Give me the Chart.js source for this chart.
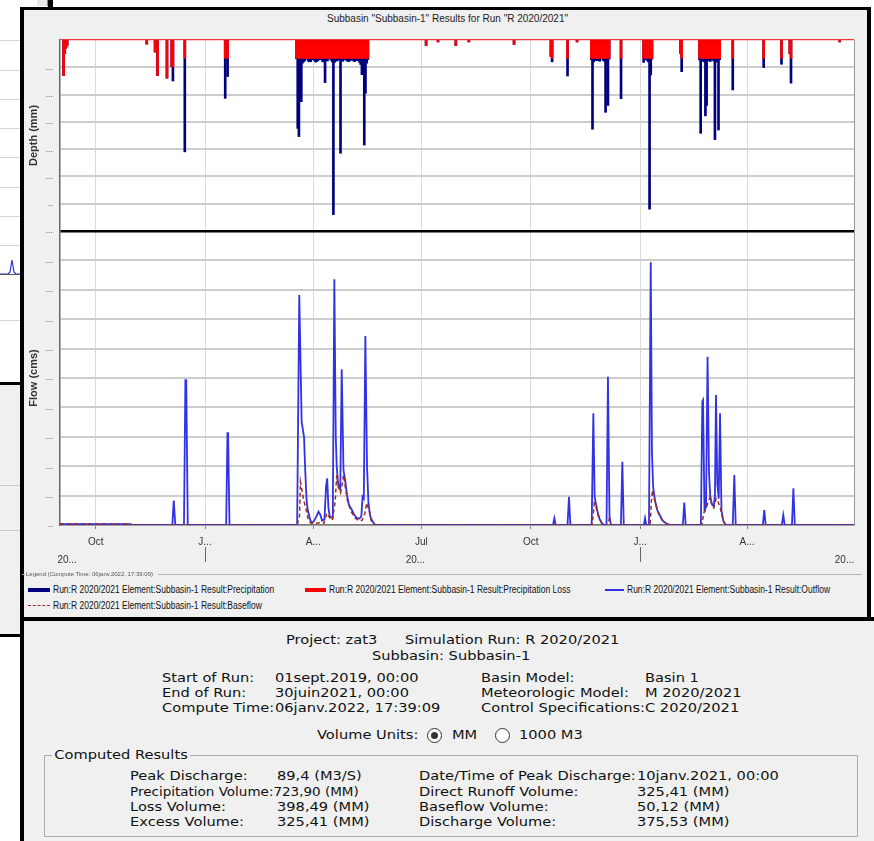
<!DOCTYPE html>
<html>
<head>
<meta charset="utf-8">
<title>Subbasin-1 results</title>
<script src="https://cdn.jsdelivr.net/npm/chart.js@4.4.1/dist/chart.umd.min.js"></script>
<style>
  html, body { margin: 0; padding: 0; }
  body { position: relative; width: 874px; height: 841px; overflow: hidden; background: #fff; }
  .box { position: absolute; }
  .t { position: absolute; white-space: nowrap; font: 12.5px 'DejaVu Sans', sans-serif; color: #111; line-height: 15px; transform: scaleX(1.17); transform-origin: 0 0; }
  .lg { position: absolute; white-space: nowrap; font: 10px 'Liberation Sans', Arial, sans-serif; color: #111; line-height: 12px; transform: scaleX(0.85); transform-origin: 0 0; }
  canvas { position: absolute; }
</style>
</head>
<body>

<!-- window behind, on the left -->
<div class="box" style="left:0;top:40px;width:21px;height:1px;background:#d4d4d4"></div>
<div class="box" style="left:0;top:70px;width:21px;height:1px;background:#d4d4d4"></div>
<div class="box" style="left:0;top:99px;width:21px;height:1px;background:#d4d4d4"></div>
<div class="box" style="left:0;top:128px;width:21px;height:1px;background:#d4d4d4"></div>
<div class="box" style="left:0;top:157px;width:21px;height:1px;background:#d4d4d4"></div>
<div class="box" style="left:0;top:187px;width:21px;height:1px;background:#d4d4d4"></div>
<div class="box" style="left:0;top:216px;width:21px;height:1px;background:#d4d4d4"></div>
<div class="box" style="left:0;top:245px;width:21px;height:1px;background:#d4d4d4"></div>
<svg class="box" style="left:0;top:250px" width="21" height="30"><polyline points="0,24 8,24 10,22 12,10 14,22 16,24 21,24" fill="none" stroke="#3131e6" stroke-width="1.2"/><line x1="0" y1="24.5" x2="21" y2="24.5" stroke="#555" stroke-width="1"/></svg>
<div class="box" style="left:0;top:320px;width:21px;height:1px;background:#d4d4d4"></div>
<div class="box" style="left:0;top:382px;width:21px;height:3px;background:#000"></div>
<div class="box" style="left:0;top:385px;width:21px;height:249px;background:#f0f0f0"></div>
<div class="box" style="left:0;top:485px;width:21px;height:1px;background:#c8c8c8"></div>
<div class="box" style="left:0;top:530px;width:21px;height:1px;background:#c8c8c8"></div>
<div class="box" style="left:0;top:634px;width:21px;height:3px;background:#000"></div>
<div class="box" style="left:37px;top:0;width:10px;height:6px;background:#e8e8e8;border-right:1px solid #888"></div>
<div class="box" style="left:48px;top:0;width:5px;height:8px;background:#000"></div>

<!-- chart window -->
<div class="box" style="left:24px;top:10px;width:843px;height:607px;background:#f0f0f0"></div>
<div class="box" style="left:20px;top:7px;width:851px;height:3px;background:#000"></div>
<div class="box" style="left:20px;top:7px;width:4px;height:834px;background:#000"></div>
<div class="box" style="left:867px;top:7px;width:4px;height:613px;background:#000"></div>
<div class="box" style="left:24px;top:621px;width:850px;height:220px;background:#f0f0f0"></div>
<div class="box" style="left:20px;top:617px;width:854px;height:4px;background:#000"></div>

<div class="box" style="left:24px;top:12px;width:847px;text-align:center;font:10px 'Liberation Sans', Arial, sans-serif;color:#222;line-height:14px">Subbasin "Subbasin-1" Results for Run "R 2020/2021"</div>

<canvas id="depthChart" width="842" height="202" style="left:24px;top:30px"></canvas>
<canvas id="flowChart" width="842" height="352" style="left:24px;top:221px"></canvas>

<!-- legend -->
<div class="box" style="left:22px;top:574px;width:3px;height:1px;background:#b0b0b0"></div>
<div class="box" style="left:26px;top:570px;white-space:nowrap;font:6px 'Liberation Sans', Arial, sans-serif;color:#555;line-height:8px">Legend (Compute Time: 06janv.2022, 17:39:09)</div>
<div class="box" style="left:158px;top:574px;width:704px;height:1px;background:#b5b5b5"></div>
<div class="box" style="left:28px;top:588px;width:22px;height:4px;background:#00007f"></div>
<div class="lg" style="left:53px;top:584px">Run:R 2020/2021 Element:Subbasin-1 Result:Precipitation</div>
<div class="box" style="left:305px;top:588px;width:21px;height:4px;background:#ff0000"></div>
<div class="lg" style="left:329px;top:584px">Run:R 2020/2021 Element:Subbasin-1 Result:Precipitation Loss</div>
<div class="box" style="left:605px;top:589px;width:19px;height:2px;background:#3131e6"></div>
<div class="lg" style="left:627px;top:584px">Run:R 2020/2021 Element:Subbasin-1 Result:Outflow</div>
<div class="box" style="left:28px;top:605px;width:22px;height:0;border-top:1.5px dashed #9c2b25"></div>
<div class="lg" style="left:53px;top:600px">Run:R 2020/2021 Element:Subbasin-1 Result:Baseflow</div>

<!-- summary panel -->
<div class="t" style="left:286px;top:632px">Project: zat3</div>
<div class="t" style="left:405px;top:632px">Simulation Run: R 2020/2021</div>
<div class="t" style="left:372px;top:648px">Subbasin: Subbasin-1</div>

<div class="t" style="left:162px;top:670px">Start of Run:</div>
<div class="t" style="left:275px;top:670px">01sept.2019, 00:00</div>
<div class="t" style="left:481px;top:670px">Basin Model:</div>
<div class="t" style="left:645px;top:670px">Basin 1</div>
<div class="t" style="left:162px;top:685px">End of Run:</div>
<div class="t" style="left:275px;top:685px">30juin2021, 00:00</div>
<div class="t" style="left:481px;top:685px">Meteorologic Model:</div>
<div class="t" style="left:645px;top:685px">M 2020/2021</div>
<div class="t" style="left:162px;top:700px">Compute Time:</div>
<div class="t" style="left:275px;top:700px">06janv.2022, 17:39:09</div>
<div class="t" style="left:481px;top:700px">Control Specifications:</div>
<div class="t" style="left:645px;top:700px">C 2020/2021</div>

<div class="t" style="left:317px;top:727px">Volume Units:</div>
<div class="box" style="left:427px;top:728px;width:13px;height:13px;border:1px solid #333;border-radius:50%;background:#fff"></div>
<div class="box" style="left:431px;top:732px;width:7px;height:7px;border-radius:50%;background:#333"></div>
<div class="t" style="left:452px;top:727px">MM</div>
<div class="box" style="left:495px;top:728px;width:13px;height:13px;border:1px solid #333;border-radius:50%;background:#fff"></div>
<div class="t" style="left:519px;top:727px">1000 M3</div>

<div class="box" style="left:44px;top:755px;width:812px;height:80px;border:1px solid #a9a9a9"></div>
<div class="t" style="left:52px;top:747px;background:#f0f0f0;padding:0 2px">Computed Results</div>

<div class="t" style="left:130px;top:768px">Peak Discharge:</div>
<div class="t" style="left:277px;top:768px">89,4 (M3/S)</div>
<div class="t" style="left:419px;top:768px">Date/Time of Peak Discharge:</div>
<div class="t" style="left:637px;top:768px">10janv.2021, 00:00</div>
<div class="t" style="left:130px;top:784px;transform:scaleX(1.08)">Precipitation Volume:723,90 (MM)</div>
<div class="t" style="left:419px;top:784px">Direct Runoff Volume:</div>
<div class="t" style="left:637px;top:784px">325,41 (MM)</div>
<div class="t" style="left:130px;top:799px">Loss Volume:</div>
<div class="t" style="left:277px;top:799px">398,49 (MM)</div>
<div class="t" style="left:419px;top:799px">Baseflow Volume:</div>
<div class="t" style="left:637px;top:799px">50,12 (MM)</div>
<div class="t" style="left:130px;top:814px">Excess Volume:</div>
<div class="t" style="left:277px;top:814px">325,41 (MM)</div>
<div class="t" style="left:419px;top:814px">Discharge Volume:</div>
<div class="t" style="left:637px;top:814px">375,53 (MM)</div>

<script>
// day 0 = 01 Sep 2019, day 668 = 30 Jun 2021
const monthTickDays = [30, 122, 213, 304, 396, 488, 578];
const monthTickLabels = ['Oct', 'J...', 'A...', 'Jul', 'Oct', 'J...', 'A...'];
const yearTickDays = [6, 122, 299, 488, 660];
const yearTickLabels = ['20...', '', '20...', '', '20...'];
const depthTickLabels = ['..', '..', '...', '...', '...', '...', '...', ''];
const flowTickLabels = ['..', '...', '...', '...', '...', '...', '...', '...', '...', '...', '...'];

// daily precipitation and loss (mm)
const precipDays = [
  3, 4, 5, 6, 73, 80, 82, 90, 94, 95, 105, 139, 141,
  199, 200, 201, 202, 203, 204, 205, 206, 207, 208,
  209, 210, 211, 212, 213, 214, 215, 216, 217, 218,
  219, 220, 221, 222, 223, 224, 225, 226, 227, 228,
  229, 230, 231, 232, 233, 234, 235, 236, 237, 238,
  239, 240, 241, 242, 243, 244, 245, 246, 247, 248,
  249, 250, 251, 252, 253, 254, 255, 256, 257, 258,
  259,
  308, 318, 333, 344, 382, 413, 414, 427, 435,
  447, 448, 449, 450, 451, 452, 453, 454, 455, 456,
  457, 458, 459, 460, 461, 462,
  472, 491, 493, 494, 495, 496, 497, 498, 522, 523,
  538, 539, 540, 541, 542, 543, 544, 545, 546, 547,
  548, 549, 550, 551, 552, 553, 554, 555,
  566, 592, 607, 614, 615, 656
];
const precipMm = [
  13, 5, 3, 2, 1.5, 4.4, 13, 14, 9.8, 15, 41, 21.4, 13.4,
  6.9, 32.4, 35.4, 8.2, 22.6, 8.5, 8.0, 7.6, 7.0, 6.7,
  7.8, 8.0, 7.9, 7.2, 6.7, 7.5, 8.1, 7.9, 7.6, 7.2,
  6.7, 7.3, 8.0, 7.8, 15.6, 7.4, 7.7, 7.0, 6.7, 7.4,
  8.0, 64, 8.2, 7.5, 7.7, 7.0, 7.4, 41.5, 7.6, 7.8,
  7.2, 6.7, 7.5, 7.8, 7.9, 7.6, 7.4, 7.2, 7.7, 7.9,
  7.5, 7.0, 7.6, 8.2, 9.0, 12.7, 12.0, 38.5, 19.5, 8.5,
  7.2,
  2, 0.7, 2, 0.7, 1.6, 6, 8, 13.2, 0.7,
  7.2, 32.7, 8.0, 7.4, 7.6, 7.3, 7.5, 7.8, 7.0, 6.7,
  7.5, 7.8, 26.5, 8.2, 24.0, 7.0,
  21.5, 8.2, 7.2, 7.5, 8.0, 62, 12.8, 7.0, 5, 11.6,
  7.3, 34.2, 7.8, 7.5, 8.0, 27.8, 24.0, 7.6, 7.2, 7.9,
  7.4, 7.0, 7.7, 36.5, 8.1, 7.8, 33.0, 7.2,
  18.3, 10.1, 8.9, 5, 15.8, 0.7
];
const lossMm = [
  13, 5, 3, 2, 1.5, 4.4, 13, 14, 9.8, 9.8, 6.7, 6.7, 6.7,
  6.7, 6.7, 6.7, 6.7, 6.7, 6.7, 6.7, 6.7, 6.7, 6.7,
  6.7, 6.7, 6.7, 6.7, 6.7, 6.7, 6.7, 6.7, 6.7, 6.7,
  6.7, 6.7, 6.7, 6.7, 6.7, 6.7, 6.7, 6.7, 6.7, 6.7,
  6.7, 6.7, 6.7, 6.7, 6.7, 6.7, 6.7, 6.7, 6.7, 6.7,
  6.7, 6.7, 6.7, 6.7, 6.7, 6.7, 6.7, 6.7, 6.7, 6.7,
  6.7, 6.7, 6.7, 6.7, 6.7, 6.7, 6.7, 6.7, 6.7, 6.7,
  6.7,
  2, 0.7, 2, 0.7, 1.6, 6, 6.7, 6.7, 0.7,
  6.7, 6.7, 6.7, 6.7, 6.7, 6.7, 6.7, 6.7, 6.7, 6.7,
  6.7, 6.7, 6.7, 6.7, 6.7, 6.7,
  6.7, 6.7, 6.7, 6.7, 6.7, 6.7, 6.7, 6.7, 5, 6.7,
  6.7, 6.7, 6.7, 6.7, 6.7, 6.7, 6.7, 6.7, 6.7, 6.7,
  6.7, 6.7, 6.7, 6.7, 6.7, 6.7, 6.7, 6.7,
  6.7, 6.7, 6.7, 5, 6.7, 0.7
];

// outflow (cms)
const flowDays = [
  0, 59, 61,
  94.5, 95.7, 97,
  104.3, 105.5, 106.2, 107.5,
  139.8, 140.9, 141.4, 142.6,
  199.5, 201.3, 203.3, 205.3, 206.3, 207.5, 208.5, 210.5, 212, 214,
  217.5, 219, 220.5, 222.5, 223.8, 224.8, 225.8, 227, 229.5, 230.8,
  232, 232.8, 234, 235.8, 237, 238.5, 240, 241.5, 243, 245.5,
  247.5, 250, 252, 253.5, 254.6, 255.6, 256.9, 258.3, 259.5, 261,
  262.5, 265,
  414.8, 415.9, 417,
  427, 428.2, 429.4,
  447.3, 448.7, 449.8, 451, 452.5, 454, 456, 458,
  459.8, 461, 462.3, 463.5,
  471.9, 473.1, 474.3,
  491.2, 492.2, 493.2,
  495.5, 497, 498, 499, 500.5, 502.5, 504.5, 507, 510, 513,
  524, 525.2, 526.4,
  539.2, 540.4, 541, 542.2, 543.5, 544.8, 546, 547, 548.5, 550,
  551, 551.9, 553, 554.2, 555.3, 556.5, 558, 560,
  566, 567.3, 568.5,
  591.3, 592.5, 593.7,
  607.3, 608.5, 609.7,
  615.8, 617, 618.2,
  668
];
const outflowCms = [
  0.3, 0.3, 0,
  0, 8.3, 0,
  0, 49.3, 49.3, 0,
  0, 31.2, 31.2, 0,
  0, 78.2, 35.1, 30, 18.7, 8, 5, 1.7, 0.7, 1.5,
  4.5, 3.5, 1.5, 2, 13, 15.9, 6, 2.8, 2.5, 83.6,
  30, 19.8, 14, 12, 53, 18.7, 15, 10, 7, 5.1,
  3.5, 2.3, 2.2, 3, 9.6, 9, 64.3, 20, 7.4, 3,
  1.5, 0,
  0, 2.3, 0,
  0, 9.6, 0,
  0, 38, 9.6, 7, 4, 2, 0.5, 0,
  0, 50.4, 3, 0,
  0, 21.5, 0,
  0, 2.3, 0,
  0, 89.4, 25, 13, 8.5, 5, 3.4, 1.5, 0.5, 0,
  0, 7.6, 0,
  0, 42, 42.5, 5, 6, 57.2, 18, 10, 7, 6.5,
  10, 44.2, 14, 9, 38, 5, 1.5, 0,
  0, 17, 0,
  0, 5.1, 0,
  0, 3.4, 0,
  0, 12.5, 0,
  0
];

// baseflow (cms)
const baseDays = [
  0, 59, 61,
  199.5, 201.5, 202.3, 203.5, 205, 207, 209, 211, 214, 218,
  222, 224.5, 226, 229, 231.5, 232.8, 234, 236, 237.5, 238.5,
  240, 242, 245, 248, 251, 254, 256.5, 258, 260, 262,
  264.5,
  447.8, 449.5, 451, 453, 456, 458,
  461, 462, 463.5,
  496.5, 497.5, 498.5, 500.5, 503, 506, 510, 513,
  540, 541.5, 543, 545.5, 547, 548.5, 550, 552, 553.5, 555.5,
  557, 559, 561,
  668
];
const baseflowCms = [
  0.3, 0.3, 0,
  0, 3, 14.7, 12, 8.5, 5.4, 1.5, 0.7, 0.5, 0.8,
  0.6, 4, 3, 1.5, 8, 17, 13, 11, 14, 17,
  13, 8, 4.5, 2.5, 1.5, 1.5, 4, 7.5, 5, 1.2,
  0,
  0, 7.4, 6, 3, 0.4, 0,
  0, 2, 0,
  0, 8, 11.9, 8, 4.5, 2, 0.5, 0,
  0, 4, 5, 8, 9.5, 6.5, 5.8, 9, 8, 6,
  3, 0.6, 0,
  0
];

Chart.defaults.font.family = "'Liberation Sans', Arial, sans-serif";
Chart.defaults.color = '#333';

// white plot area and grey right edge
const plotFrame = {
  id: 'plotFrame',
  beforeDraw(chart) {
    const { ctx, chartArea: a } = chart;
    ctx.save();
    ctx.fillStyle = '#ffffff';
    ctx.fillRect(a.left, a.top, a.right - a.left, a.bottom - a.top);
    ctx.restore();
  },
  afterDraw(chart) {
    const { ctx, chartArea: a } = chart;
    ctx.save();
    ctx.strokeStyle = '#9a9a9a';
    ctx.lineWidth = 1;
    ctx.beginPath();
    ctx.moveTo(a.right + 0.5, a.top);
    ctx.lineTo(a.right + 0.5, a.bottom);
    ctx.stroke();
    ctx.restore();
  }
};

function monthTicks(scale) {
  scale.ticks = monthTickDays.map(v => ({ value: v }));
}
function noPad(s) {
  s.paddingTop = 0; s.paddingBottom = 0; s.paddingLeft = 0; s.paddingRight = 0;
}
const tickVal = c => (c.tick ? c.tick.value : null);

new Chart(document.getElementById('depthChart'), {
  type: 'bar',
  data: {
    datasets: [
      {
        label: 'Run:R 2020/2021 Element:Subbasin-1 Result:Precipitation Loss',
        data: precipDays.map((d, i) => ({ x: d, y: lossMm[i] })),
        backgroundColor: '#ff0000',
        barThickness: 2,
        grouped: false
      },
      {
        label: 'Run:R 2020/2021 Element:Subbasin-1 Result:Precipitation',
        data: precipDays.map((d, i) => ({ x: d, y: precipMm[i] })),
        backgroundColor: '#00007f',
        barThickness: 2,
        grouped: false
      }
    ]
  },
  options: {
    responsive: false,
    animation: false,
    events: [],
    layout: { padding: { left: 0, top: 10, right: 12, bottom: 1 } },
    plugins: { legend: { display: false }, tooltip: { enabled: false } },
    scales: {
      x: {
        type: 'linear', min: 0, max: 668, offset: false,
        afterBuildTicks: monthTicks,
        ticks: { display: false },
        grid: { color: '#dadada', lineWidth: 1, drawTicks: false, offset: false },
        border: { display: false },
        afterFit: s => { s.height = 0; noPad(s); }
      },
      y: {
        min: 0, max: 70, reverse: true,
        ticks: { stepSize: 10, padding: 7, font: { size: 9 }, color: '#555', callback: (v, i) => depthTickLabels[i] },
        grid: {
          drawTicks: false,
          color: c => tickVal(c) === 0 ? '#ee3a3a' : (tickVal(c) === 70 ? '#000000' : '#cdcdcd'),
          lineWidth: c => tickVal(c) === 0 ? 1.2 : (tickVal(c) === 70 ? 2.5 : 2)
        },
        border: { color: '#666', width: 1.5 },
        title: { display: true, text: 'Depth (mm)', font: { size: 11, weight: 'bold' }, color: '#333', padding: { top: 3, bottom: 0 } },
        afterFit: s => { s.width = 36; noPad(s); }
      }
    }
  },
  plugins: [plotFrame]
});

new Chart(document.getElementById('flowChart'), {
  type: 'line',
  data: {
    datasets: [
      {
        label: 'Run:R 2020/2021 Element:Subbasin-1 Result:Baseflow',
        data: baseDays.map((d, i) => ({ x: d, y: baseflowCms[i] })),
        xAxisID: 'x', yAxisID: 'y',
        borderColor: '#9c2b25', borderWidth: 1.5, borderDash: [4, 3],
        pointRadius: 0, tension: 0
      },
      {
        label: 'Run:R 2020/2021 Element:Subbasin-1 Result:Outflow',
        data: flowDays.map((d, i) => ({ x: d, y: outflowCms[i] })),
        xAxisID: 'x', yAxisID: 'y',
        borderColor: '#3131e6', borderWidth: 1.8,
        pointRadius: 0, tension: 0
      }
    ]
  },
  options: {
    responsive: false,
    animation: false,
    events: [],
    layout: { padding: { left: 0, top: 10, right: 12, bottom: 6 } },
    plugins: { legend: { display: false }, tooltip: { enabled: false } },
    scales: {
      x: {
        type: 'linear', min: 0, max: 668, weight: 0,
        afterBuildTicks: monthTicks,
        ticks: { autoSkip: false, maxRotation: 0, padding: 7, font: { size: 10 }, color: '#333', callback: (v, i) => monthTickLabels[i] },
        grid: { color: '#dadada', lineWidth: 1, tickLength: 4, tickColor: '#888' },
        border: { color: '#777', width: 1.5 },
        afterFit: s => { s.height = 22; noPad(s); }
      },
      x2: {
        type: 'linear', position: 'bottom', min: 0, max: 668, weight: 1,
        afterBuildTicks: s => { s.ticks = yearTickDays.map(v => ({ value: v })); },
        ticks: { autoSkip: false, maxRotation: 0, padding: -8, font: { size: 10 }, color: '#333', callback: (v, i) => yearTickLabels[i] },
        grid: {
          drawOnChartArea: false, tickLength: 15, tickWidth: 1,
          tickColor: c => yearTickLabels[c.index] === '' ? '#666' : 'rgba(0,0,0,0)'
        },
        border: { display: false },
        afterFit: s => { s.height = 20; noPad(s); }
      },
      y: {
        min: 0, max: 100,
        ticks: { stepSize: 10, padding: 7, font: { size: 9 }, color: '#555', callback: (v, i) => flowTickLabels[i] },
        grid: {
          drawTicks: false,
          color: c => tickVal(c) === 100 ? '#000000' : '#cdcdcd',
          lineWidth: c => tickVal(c) === 100 ? 2.5 : 2
        },
        border: { color: '#666', width: 1.5 },
        title: { display: true, text: 'Flow (cms)', font: { size: 11, weight: 'bold' }, color: '#333', padding: { top: 3, bottom: 0 } },
        afterFit: s => { s.width = 36; noPad(s); }
      }
    }
  },
  plugins: [plotFrame]
});
</script>
</body>
</html>
